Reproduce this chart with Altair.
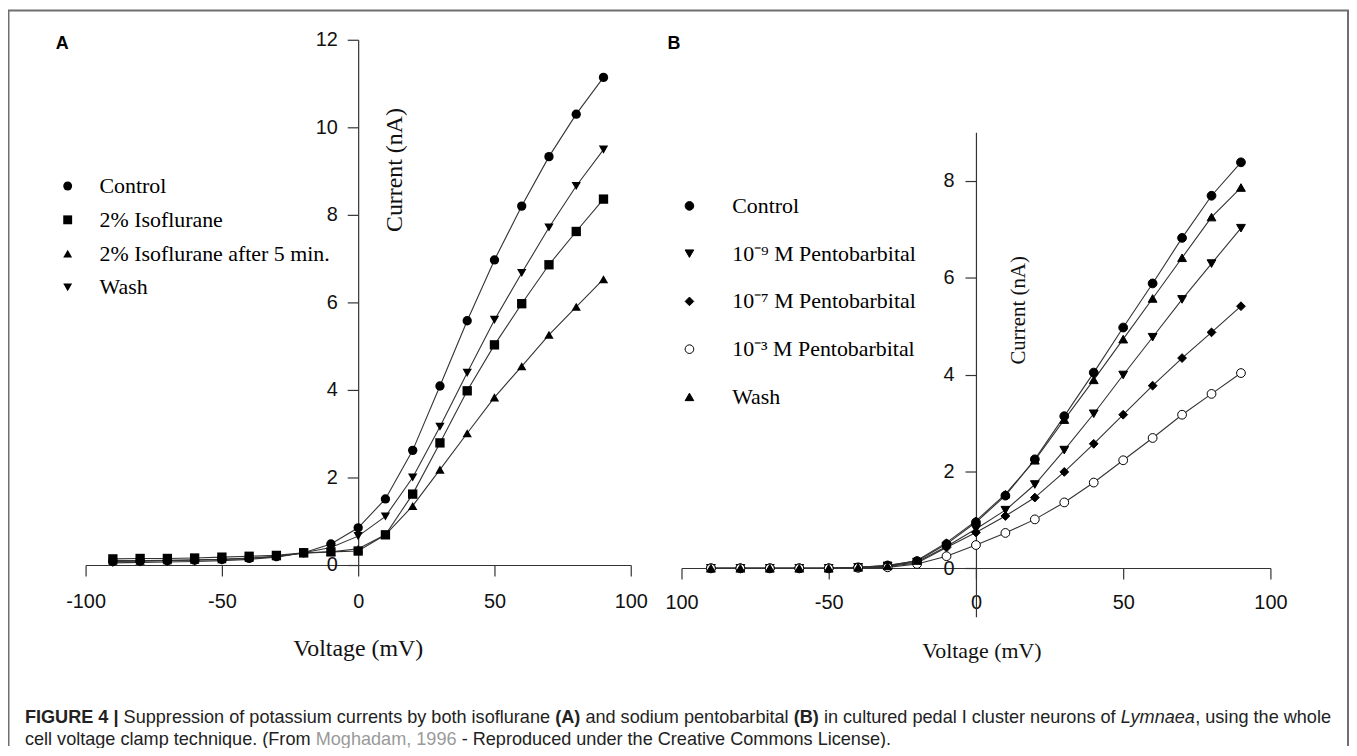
import altair as alt
import pandas as pd

# ---------------- data ----------------
voltage = [-90, -80, -70, -60, -50, -40, -30, -20, -10, 0, 10, 20, 30, 40, 50, 60, 70, 80, 90]

a_series = ["Control", "2% Isoflurane", "2% Isoflurane after 5 min.", "Wash"]
a_control = [0.08, 0.09, 0.10, 0.11, 0.13, 0.15, 0.19, 0.28, 0.48, 0.85, 1.51, 2.62, 4.09, 5.58, 6.97, 8.20, 9.33, 10.30, 11.14]
a_iso = [0.14, 0.15, 0.15, 0.16, 0.18, 0.20, 0.22, 0.28, 0.30, 0.32, 0.69, 1.62, 2.79, 3.98, 5.03, 5.97, 6.86, 7.62, 8.36]
a_iso5 = [0.10, 0.10, 0.11, 0.12, 0.13, 0.16, 0.20, 0.27, 0.30, 0.37, 0.69, 1.35, 2.18, 3.01, 3.83, 4.54, 5.26, 5.90, 6.53]
a_wash = [0.05, 0.06, 0.07, 0.08, 0.10, 0.13, 0.18, 0.28, 0.40, 0.66, 1.11, 2.00, 3.16, 4.39, 5.60, 6.67, 7.71, 8.66, 9.49]

b_series = ["Control", "10\u207b\u2079 M Pentobarbital", "10\u207b\u2077 M Pentobarbital",
            "10\u207b\u00b3 M Pentobarbital", "Wash"]
b_control = [0.0, 0.0, 0.0, 0.0, 0.0, 0.02, 0.06, 0.15, 0.50, 0.95, 1.50, 2.25, 3.14, 4.04, 4.97, 5.88, 6.82, 7.69, 8.38]
b_e9 = [0.0, 0.0, 0.0, 0.0, 0.0, 0.02, 0.05, 0.13, 0.45, 0.81, 1.20, 1.73, 2.44, 3.19, 3.99, 4.77, 5.55, 6.29, 7.02]
b_e7 = [0.0, 0.0, 0.0, 0.0, 0.0, 0.02, 0.04, 0.11, 0.43, 0.74, 1.08, 1.46, 1.99, 2.57, 3.17, 3.77, 4.34, 4.87, 5.41]
b_e3 = [0.0, 0.0, 0.0, 0.0, 0.0, 0.01, 0.02, 0.09, 0.25, 0.48, 0.73, 1.01, 1.36, 1.77, 2.23, 2.69, 3.17, 3.60, 4.03]
b_wash = [0.0, 0.0, 0.0, 0.0, 0.0, 0.02, 0.05, 0.16, 0.53, 0.98, 1.53, 2.23, 3.07, 3.89, 4.73, 5.57, 6.41, 7.25, 7.86]

x_ticks = [-100, -50, 0, 50, 100]
a_y_ticks = [0, 2, 4, 6, 8, 10, 12]
b_y_ticks = [0, 2, 4, 6, 8]

panel_labels = ["A", "B"]
x_title = ["Voltage (mV)"]
a_y_title = ["Current (nA)"]
b_y_title = ["Current  (nA)"]

caption_line1 = ["FIGURE 4 |", "Suppression of potassium currents by both isoflurane", "(A)",
                 "and sodium pentobarbital", "(B)", "in cultured pedal I cluster neurons of",
                 "Lymnaea", ", using the whole"]
caption_style1 = ["bold", "normal", "bold", "normal", "bold", "normal", "italic", "tight"]
caption_line2 = ["cell voltage clamp technique. (From", "Moghadam, 1996",
                 "- Reproduced under the Creative Commons License)."]
caption_color2 = ["#222222", "#9a9a9a", "#222222"]


def to_long(names, arrays):
    rows = []
    for name, vals in zip(names, arrays):
        for v, c in zip(voltage, vals):
            rows.append({"series": name, "voltage": v, "current": c})
    return pd.DataFrame(rows)


dfA = to_long(a_series, [a_control, a_iso, a_iso5, a_wash])
dfB = to_long(b_series, [b_control, b_e9, b_e7, b_e3, b_wash])

W, H = 1348, 740
SANS = "Liberation Sans"
SERIF = "Liberation Serif"

common_axis = dict(grid=False, title=None, tickSize=11, labelFont=SANS, labelFontSize=20,
                   labelColor="#111111", domainColor="#333333", tickColor="#333333",
                   domainWidth=1.2, tickWidth=1.2, labelOverlap=False, labelFlush=False)

# ---------------- panel A ----------------
sAx = alt.Scale(domain=[-100, 100], range=[78, 626], nice=False, zero=False)
sAy = alt.Scale(domain=[0, 12], range=[558, 30], nice=False, zero=False)
axAx = alt.Axis(orient="bottom", offset=-182, values=x_ticks, labelExpr="'' + datum.value",
                labelPadding=16, **common_axis)
axAy = alt.Axis(orient="left", offset=-352, values=a_y_ticks, labelExpr="'' + datum.value",
                labelPadding=10, **common_axis)
legA = alt.Legend(orient="none", legendX=49, legendY=166, direction="vertical", title=None,
                  labelFont=SERIF, labelFontSize=22, labelColor="black", labelOffset=21,
                  rowPadding=12, symbolSize=80, symbolStrokeColor="black", symbolFillColor="black",
                  symbolStrokeWidth=1, padding=0, labelLimit=400)

lineA = alt.Chart(dfA).mark_line(color="#333333", strokeWidth=1.1).encode(
    x=alt.X("voltage:Q", scale=sAx, axis=axAx),
    y=alt.Y("current:Q", scale=sAy, axis=axAy),
    detail="series:N",
)
pointA = alt.Chart(dfA).mark_point(filled=True, size=88, color="black", opacity=1).encode(
    x=alt.X("voltage:Q", scale=sAx, axis=axAx),
    y=alt.Y("current:Q", scale=sAy, axis=axAy),
    shape=alt.Shape("series:N", legend=legA,
                    scale=alt.Scale(domain=a_series,
                                    range=["circle", "square", "triangle-up", "triangle-down"])),
)
panelA = alt.layer(lineA, pointA)

# ---------------- panel B ----------------
sBx = alt.Scale(domain=[-100, 100], range=[677, 1269], nice=False, zero=False)
sBy = alt.Scale(domain=[-1, 9], range=[610, 123], nice=False, zero=False)
axBx = alt.Axis(orient="bottom", offset=-179, values=x_ticks,
                labelExpr="datum.value == -100 ? '100' : '' + datum.value",
                labelPadding=14, **common_axis)
axBy = alt.Axis(orient="left", offset=-973, values=b_y_ticks, labelExpr="'' + datum.value",
                labelPadding=11, **common_axis)
legB = alt.Legend(orient="none", legendX=674, legendY=186, direction="vertical", title=None,
                  labelFont=SERIF, labelFontSize=22, labelColor="black", labelOffset=32,
                  rowPadding=26, symbolSize=75, symbolStrokeWidth=1, padding=0, labelLimit=400)
b_shapes = ["circle", "triangle-down", "diamond", "circle", "triangle-up"]
b_fills = ["black", "black", "black", "white", "black"]
b_strokes = ["black", "black", "black", "black", "black"]

lineB = alt.Chart(dfB).mark_line(color="#333333", strokeWidth=1.1).encode(
    x=alt.X("voltage:Q", scale=sBx, axis=axBx),
    y=alt.Y("current:Q", scale=sBy, axis=axBy),
    detail="series:N",
)
pointB = alt.Chart(dfB).mark_point(filled=True, size=78, strokeWidth=1, opacity=1).encode(
    x=alt.X("voltage:Q", scale=sBx, axis=axBx),
    y=alt.Y("current:Q", scale=sBy, axis=axBy),
    shape=alt.Shape("series:N", legend=legB, scale=alt.Scale(domain=b_series, range=b_shapes)),
    fill=alt.Fill("series:N", legend=legB, scale=alt.Scale(domain=b_series, range=b_fills)),
    stroke=alt.Stroke("series:N", legend=legB, scale=alt.Scale(domain=b_series, range=b_strokes)),
)
panelB = alt.layer(lineB, pointB)


# ---------------- annotations ----------------
def label(text, x, y, **kw):
    return alt.Chart(pd.DataFrame({"t": [text]})).mark_text(**kw).encode(
        text="t:N", x=alt.value(x), y=alt.value(y))


texts = [
    label(panel_labels[0], 48, 34, font=SANS, fontSize=18, fontWeight="bold", align="left", color="black"),
    label(panel_labels[1], 663, 34, font=SANS, fontSize=18, fontWeight="bold", align="left", color="black"),
    label(x_title[0], 352, 642, font=SERIF, fontSize=24, align="center", color="#111111"),
    label(x_title[0], 979, 644, font=SERIF, fontSize=22, align="center", color="#111111"),
    label(a_y_title[0], 389, 161, font=SERIF, fontSize=24, align="center", baseline="middle",
          angle=270, color="#111111"),
    label(b_y_title[0], 1016, 302, font=SERIF, fontSize=21, align="center", baseline="middle",
          angle=270, color="#111111"),
]

# Arial / Liberation Sans advance widths (1/1000 em) used to chain the caption segments
REG = {" ": 278, "(": 333, ")": 333, ",": 278, "-": 333, ".": 278, "|": 260,
       "A": 667, "B": 667, "C": 722, "E": 667, "F": 611, "G": 778, "I": 278, "L": 556,
       "M": 833, "R": 722, "S": 667, "U": 722,
       "a": 556, "b": 556, "c": 500, "d": 556, "e": 556, "f": 278, "g": 556, "h": 556,
       "i": 222, "k": 500, "l": 222, "m": 833, "n": 556, "o": 556, "p": 556, "q": 556,
       "r": 333, "s": 500, "t": 278, "u": 556, "v": 500, "w": 722, "y": 500}
BOLD = {" ": 278, "(": 333, ")": 333, "|": 280, "A": 722, "B": 722, "E": 667, "F": 611,
        "G": 778, "I": 278, "R": 722, "U": 722}
CAP_FS = 18.2


def text_w(s, bold=False):
    tab = BOLD if bold else REG
    return sum(tab.get(ch, REG.get(ch, 556 if ch.isdigit() else 556)) for ch in s) * CAP_FS / 1000.0


cx = 17.0
for seg, st in zip(caption_line1, caption_style1):
    if st == "tight":
        pass
    elif cx > 17.0:
        cx += text_w(" ")
    kw = dict(font=SANS, fontSize=CAP_FS, align="left", color="#222222")
    if st == "bold":
        kw["fontWeight"] = "bold"
    if st == "italic":
        kw["fontStyle"] = "italic"
    texts.append(label(seg, round(cx, 1), 712, **kw))
    cx += text_w(seg, bold=(st == "bold"))

cx = 17.0
for seg, col in zip(caption_line2, caption_color2):
    if cx > 17.0:
        cx += text_w(" ")
    texts.append(label(seg, round(cx, 1), 734, font=SANS, fontSize=CAP_FS, align="left", color=col))
    cx += text_w(seg)

frame_df = pd.DataFrame({"k": [0]})
frame = [
    alt.Chart(frame_df).mark_rule(color="#6e6e6e", strokeWidth=2).encode(
        x=alt.value(0.5), y=alt.value(0), y2=alt.value(H)),
    alt.Chart(frame_df).mark_rule(color="#6e6e6e", strokeWidth=2).encode(
        x=alt.value(0), x2=alt.value(1348), y=alt.value(0.5)),
    alt.Chart(frame_df).mark_rule(color="#6e6e6e", strokeWidth=2).encode(
        x=alt.value(1347), y=alt.value(0), y2=alt.value(H)),
]

chart = alt.layer(panelA, panelB, *texts, *frame).resolve_scale(
    x="independent", y="independent", shape="independent", fill="independent",
    stroke="independent"
).resolve_axis(x="independent", y="independent").resolve_legend(
    shape="independent", fill="independent", stroke="independent"
).properties(
    width=W, height=H, padding=0, autosize=alt.AutoSizeParams(type="none"), background="white"
).configure_view(stroke=None)

chart.save("out.html", embed_options={"renderer": "svg", "actions": False})
